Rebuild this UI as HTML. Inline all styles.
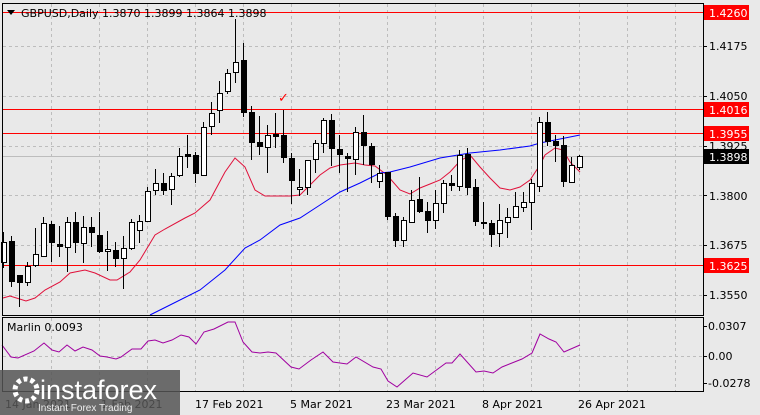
<!DOCTYPE html>
<html><head><meta charset="utf-8"><style>
html,body{margin:0;padding:0;background:#e9e9e9;}
svg{display:block;font-family:"DejaVu Sans","Liberation Sans",sans-serif;}
</style></head><body>
<svg width="760" height="415" viewBox="0 0 760 415" xmlns="http://www.w3.org/2000/svg">
<rect width="760" height="415" fill="#e9e9e9"/>
<g stroke="#bdbdbd" stroke-dasharray="3,3" stroke-width="1">
<path d="M51.5 4V315M99.5 4V315M147.5 4V315M195.5 4V315M243.5 4V315M291.5 4V315M339.5 4V315M387.5 4V315M435.5 4V315M483.5 4V315M531.5 4V315M579.5 4V315M627.5 4V315M675.5 4V315"/>
<path d="M3 46.5H703M3 96.5H703M3 146.5H703M3 195.5H703M3 245.5H703M3 295.5H703"/>
<path d="M51.5 318V392M99.5 318V392M147.5 318V392M195.5 318V392M243.5 318V392M291.5 318V392M339.5 318V392M387.5 318V392M435.5 318V392M483.5 318V392M531.5 318V392M579.5 318V392M627.5 318V392M675.5 318V392M3 356.5H703"/>
</g>
<line x1="3" y1="156.5" x2="703" y2="156.5" stroke="#bdbdbd"/>
<g stroke="#ff0000" stroke-width="1">
<line x1="3" y1="12.5" x2="703" y2="12.5"/>
<line x1="3" y1="109.5" x2="703" y2="109.5"/>
<line x1="3" y1="133.5" x2="703" y2="133.5"/>
<line x1="3" y1="265.5" x2="703" y2="265.5"/>
</g>
<polyline fill="none" stroke="#e0103a" stroke-width="1" points="3,298 10,296 26,301 35,298 45,290 60,282 70,273 85,270 95,273 110,280 117,280 130,272 140,260 155,235 165,229 185,218 195,213 210,200 225,172 235,158 245,167 255,190 265,196 275,196 290,196 300,195 310,185 320,175 330,168 340,165 355,163 365,165 375,166 387,175 400,190 410,194 420,188 430,184 440,180 450,172 460,161 470,155 480,167 490,178 500,188 510,190 520,187 530,180 540,165 545,155 555,148 563,150 570,162 580,172"/>
<polyline fill="none" stroke="#0000ff" stroke-width="1" points="150,315 170,305 200,290 225,270 245,248 260,240 280,225 300,218 320,205 340,192 360,183 380,173 390,172 410,167 440,158 470,153 500,150 530,146 540,143 560,139 580,135"/>
<g stroke="#000" stroke-width="1">
<path d="M3.5 232V268M11.5 236V287M19.5 275V307M27.5 262V286M35.5 228V267M43.5 217V256M51.5 221V262M59.5 226V257M67.5 217V272M75.5 212V253M83.5 216V263M91.5 217V247M99.5 212V253M107.5 231V271M115.5 242V267M123.5 236V289M131.5 219V250M139.5 215V243M147.5 187V221M155.5 169V195M163.5 173V195M171.5 173V205M179.5 148V177M187.5 135V168M195.5 152V183M203.5 122V175M211.5 102V135M219.5 81V123M227.5 69V94M235.5 19V83M243.5 43V117M251.5 106V160M259.5 116V155M267.5 125V173M275.5 113V148M283.5 110V163M291.5 153V204M299.5 169V196M307.5 160V195M315.5 140V173M323.5 118V153M331.5 114V166M339.5 135V173M347.5 153V192M355.5 127V175M363.5 115V165M371.5 143V183M379.5 165V188M387.5 172V220M395.5 213V247M403.5 217V247M411.5 190V223M419.5 177V213M427.5 202V233M435.5 190V229M443.5 180V213M451.5 175V191M459.5 150V191M467.5 148V195M475.5 179V226M483.5 202V229M491.5 220V247M499.5 204V247M507.5 208V238M515.5 192V217M523.5 192V212M531.5 179V230M539.5 117V192M547.5 112V146M555.5 135V162M563.5 136V187M571.5 157V183M579.5 155V170"/>
</g>
<g stroke="#000" stroke-width="1" fill="#fff">
<rect x="1.5" y="242.5" width="5" height="20"/>
<rect x="25.5" y="266.5" width="5" height="16"/>
<rect x="33.5" y="254.5" width="5" height="11"/>
<rect x="41.5" y="223.5" width="5" height="33"/>
<rect x="65.5" y="222.5" width="5" height="25"/>
<rect x="81.5" y="227.5" width="5" height="16"/>
<rect x="105.5" y="249.5" width="5" height="2"/>
<rect x="121.5" y="248.5" width="5" height="10"/>
<rect x="129.5" y="222.5" width="5" height="26"/>
<rect x="137.5" y="221.5" width="5" height="9"/>
<rect x="145.5" y="191.5" width="5" height="30"/>
<rect x="153.5" y="183.5" width="5" height="7"/>
<rect x="169.5" y="176.5" width="5" height="13"/>
<rect x="177.5" y="156.5" width="5" height="19"/>
<rect x="201.5" y="127.5" width="5" height="48"/>
<rect x="209.5" y="113.5" width="5" height="13"/>
<rect x="217.5" y="93.5" width="5" height="17"/>
<rect x="225.5" y="73.5" width="5" height="18"/>
<rect x="233.5" y="62.5" width="5" height="10"/>
<rect x="265.5" y="135.5" width="5" height="12"/>
<rect x="297.5" y="187.5" width="5" height="2"/>
<rect x="305.5" y="160.5" width="5" height="27"/>
<rect x="313.5" y="143.5" width="5" height="16"/>
<rect x="321.5" y="120.5" width="5" height="23"/>
<rect x="353.5" y="132.5" width="5" height="27"/>
<rect x="377.5" y="173.5" width="5" height="8"/>
<rect x="401.5" y="220.5" width="5" height="20"/>
<rect x="409.5" y="200.5" width="5" height="22"/>
<rect x="433.5" y="203.5" width="5" height="17"/>
<rect x="441.5" y="183.5" width="5" height="20"/>
<rect x="457.5" y="155.5" width="5" height="31"/>
<rect x="497.5" y="220.5" width="5" height="13"/>
<rect x="505.5" y="217.5" width="5" height="5"/>
<rect x="513.5" y="206.5" width="5" height="11"/>
<rect x="521.5" y="202.5" width="5" height="5"/>
<rect x="529.5" y="183.5" width="5" height="19"/>
<rect x="537.5" y="122.5" width="5" height="64"/>
<rect x="569.5" y="165.5" width="5" height="17"/>
<rect x="577.5" y="156.5" width="5" height="11"/>
</g>
<g fill="#000">
<rect x="9" y="241" width="6" height="41"/>
<rect x="17" y="275" width="6" height="8"/>
<rect x="49" y="224" width="6" height="19"/>
<rect x="57" y="244" width="6" height="3"/>
<rect x="73" y="222" width="6" height="21"/>
<rect x="89" y="227" width="6" height="6"/>
<rect x="97" y="235" width="6" height="17"/>
<rect x="113" y="250" width="6" height="9"/>
<rect x="161" y="183" width="6" height="8"/>
<rect x="185" y="154" width="6" height="3"/>
<rect x="193" y="155" width="6" height="19"/>
<rect x="241" y="60" width="6" height="53"/>
<rect x="249" y="112" width="6" height="31"/>
<rect x="257" y="142" width="6" height="5"/>
<rect x="273" y="134" width="6" height="3"/>
<rect x="281" y="135" width="6" height="23"/>
<rect x="289" y="158" width="6" height="23"/>
<rect x="329" y="120" width="6" height="29"/>
<rect x="337" y="149" width="6" height="6"/>
<rect x="345" y="156" width="6" height="3"/>
<rect x="361" y="132" width="6" height="14"/>
<rect x="369" y="146" width="6" height="19"/>
<rect x="385" y="172" width="6" height="45"/>
<rect x="393" y="216" width="6" height="25"/>
<rect x="417" y="199" width="6" height="13"/>
<rect x="425" y="211" width="6" height="10"/>
<rect x="449" y="183" width="6" height="3"/>
<rect x="465" y="154" width="6" height="34"/>
<rect x="473" y="187" width="6" height="35"/>
<rect x="481" y="222" width="6" height="2"/>
<rect x="489" y="223" width="6" height="12"/>
<rect x="545" y="122" width="6" height="20"/>
<rect x="553" y="141" width="6" height="5"/>
<rect x="561" y="145" width="6" height="37"/>
</g>
<text x="278" y="102" fill="#ff0000" font-size="13">✓</text>
<polyline fill="none" stroke="#a000a0" stroke-width="1" points="2,345 11,357 18,358 34,351 44,343 52,350 59,352 67,345 75,351 83,347 92,350 100,356 107,357 116,359 121,357 132,349 141,349 148,341 155,340 163,343 172,340 181,335 189,337 196,344 204,332 214,329 228,322 235,322 243,342 252,352 260,353 268,352 276,353 291,367 299,369 311,360 323,352 333,362 347,364 356,357 373,367 381,369 388,381 397,387 413,373 427,377 446,363 452,363 460,354 476,372 484,371 493,373 502,367 522,359 532,353 540,334 549,339 556,342 564,352 580,345"/>
<g fill="none" stroke="#000" stroke-width="1">
<rect x="2.5" y="3.5" width="701" height="312"/>
<rect x="2.5" y="317.5" width="701" height="74"/>
</g>
<g stroke="#000"><path d="M703 46.5h4M703 96.5h4M703 146.5h4M703 195.5h4M703 245.5h4M703 295.5h4M703 326.5h4M703 356.5h4M703 383.5h4"/></g>
<path d="M7 10h8l-4 5z" fill="#000"/>
<text x="21" y="17" font-size="11" fill="#000">GBPUSD,Daily  1.3870 1.3899 1.3864 1.3898</text>
<text x="7" y="331" font-size="11" fill="#000">Marlin 0.0093</text>
<g font-size="11" fill="#000">
<text x="709" y="50">1.4175</text>
<text x="709" y="100">1.4050</text>
<text x="709" y="150">1.3925</text>
<text x="709" y="200">1.3800</text>
<text x="709" y="249">1.3675</text>
<text x="709" y="299">1.3550</text>
<text x="708" y="330">0.0307</text>
<text x="708" y="360">0.00</text>
<text x="708" y="387">-0.0278</text>
</g>
<rect x="704" y="5" width="45" height="15" fill="#ff0000"/>
<rect x="704" y="102" width="45" height="15" fill="#ff0000"/>
<rect x="704" y="126" width="45" height="15" fill="#ff0000"/>
<rect x="704" y="149" width="45" height="15" fill="#000"/>
<rect x="704" y="258" width="45" height="15" fill="#ff0000"/>
<g font-size="11" fill="#fff">
<text x="709" y="17">1.4260</text>
<text x="709" y="114">1.4016</text>
<text x="709" y="138">1.3955</text>
<text x="709" y="161">1.3898</text>
<text x="709" y="270">1.3625</text>
</g>
<g font-size="11" fill="#000">
<text x="5" y="408">14 Jan 2021</text>
<text x="101" y="408">1 Feb 2021</text>
<text x="195" y="408">17 Feb 2021</text>
<text x="290" y="408">5 Mar 2021</text>
<text x="386" y="408">23 Mar 2021</text>
<text x="482" y="408">8 Apr 2021</text>
<text x="578" y="408">26 Apr 2021</text>
</g>
<rect x="0" y="370" width="180" height="45" fill="#555" opacity="0.85"/>
<circle cx="26" cy="390" r="11" fill="none" stroke="#fff" stroke-width="5" stroke-dasharray="4,3"/>
<text x="40" y="399" font-size="27" fill="#fff" font-family="Liberation Sans,sans-serif">instaforex</text>
<text x="38" y="411" font-size="10" fill="#eee" font-family="Liberation Sans,sans-serif">Instant Forex Trading</text>
</svg>
</body></html>
